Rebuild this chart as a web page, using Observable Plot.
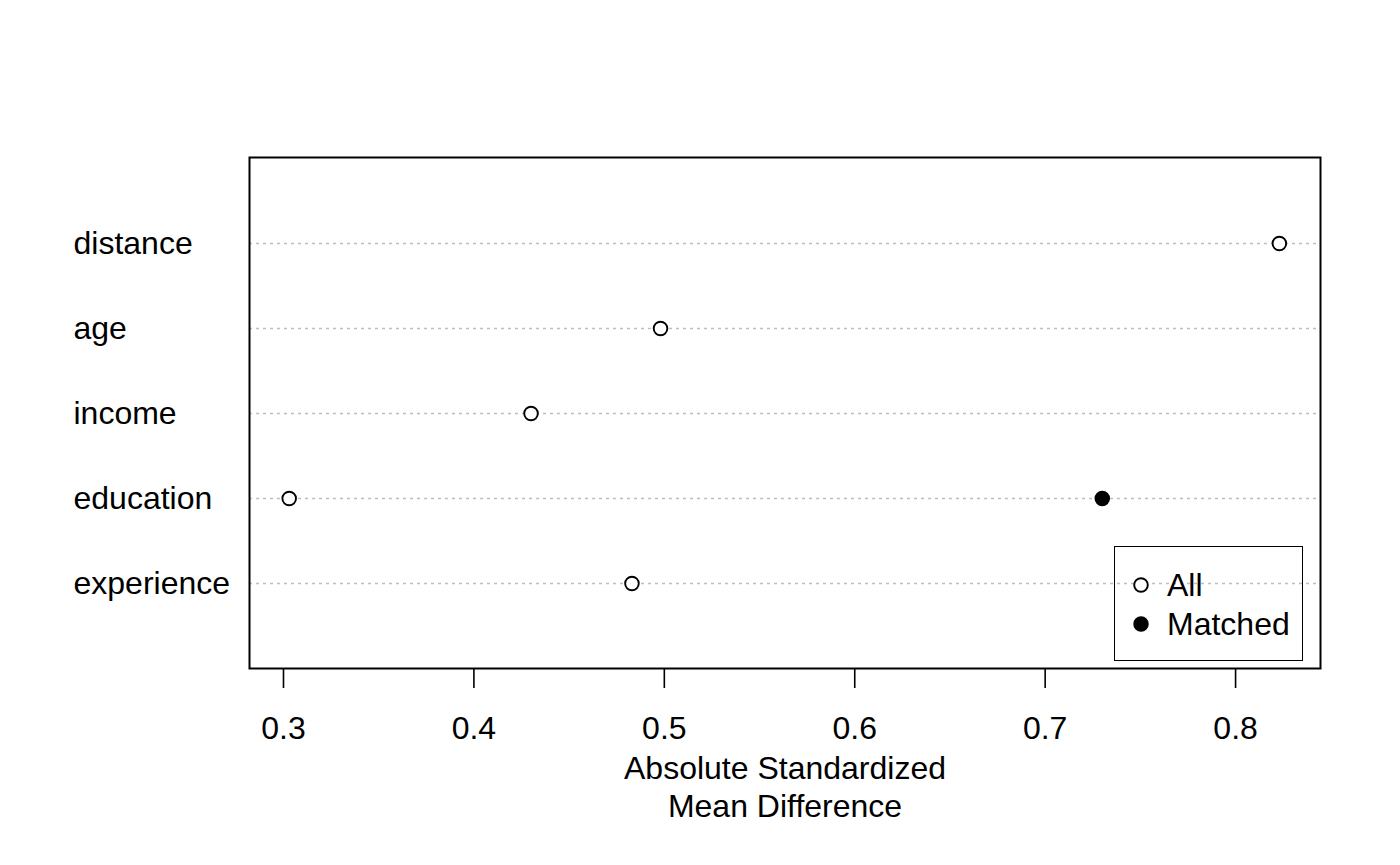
<!DOCTYPE html>
<html>
<head>
<meta charset="utf-8">
<script src="https://cdn.jsdelivr.net/npm/d3@7"></script>
<script src="https://cdn.jsdelivr.net/npm/@observablehq/plot@0.6"></script>
<style>
  html, body { margin: 0; padding: 0; background: #fff; }
  #wrap { position: relative; width: 1400px; height: 865px; font-family: "Liberation Sans", Arial, Helvetica, sans-serif; }
  #legend { position: absolute; left: 1114px; top: 546px; width: 187px; height: 113px; border: 1.6px solid #000; box-sizing: content-box; }
  #legend .row { position: absolute; left: 0; height: 40px; display: flex; align-items: center; font-size: 32px; color: #000; }
  #legend svg { margin-left: 17px; margin-right: 17px; }
</style>
</head>
<body>
<div id="wrap"></div>
<script>
// Data
const variables = ["distance", "age", "income", "education", "experience"];
const allValues = [0.823, 0.498, 0.430, 0.303, 0.483];
const matchedVariables = ["education"];
const matchedValues = [0.730];
const xTicks = [0.3, 0.4, 0.5, 0.6, 0.7, 0.8];
const xTitle = "Absolute Standardized\nMean Difference";
const legendLabels = ["All", "Matched"];

const allData = variables.map((v, i) => ({variable: v, value: allValues[i]}));
const matchedData = matchedVariables.map((v, i) => ({variable: v, value: matchedValues[i]}));

const chart = Plot.plot({
  width: 1400,
  height: 865,
  marginLeft: 249,
  marginRight: 80,
  marginTop: 157,
  marginBottom: 197,
  style: {fontFamily: '"Liberation Sans", Arial, Helvetica, sans-serif', fontSize: "32px", color: "#000", background: "#fff"},
  x: {domain: [0.28215, 0.8446]},
  y: {type: "point", domain: variables, padding: 1},
  marks: [
    Plot.ruleY(variables, {y: d => d, stroke: "#bebebe", strokeWidth: 1.3, strokeDasharray: "3,4"}),
    Plot.frame({stroke: "#000", strokeWidth: 2}),
    Plot.axisX(xTicks, {anchor: "bottom", tickSize: 20, tickPadding: 28, tickFormat: d => String(d), label: null, strokeWidth: 1.6}),
    Plot.axisY({anchor: "left", tickSize: 0, tickPadding: 0, textAnchor: "start", dx: -176, label: null}),
    Plot.text([xTitle], {frameAnchor: "bottom", text: d => d, lineAnchor: "top", dy: 84, lineHeight: 1.17, fontSize: 32}),
    Plot.dot(allData, {x: "value", y: "variable", r: 6.8, fill: "#fff", stroke: "#000", strokeWidth: 1.9}),
    Plot.dot(matchedData, {x: "value", y: "variable", r: 6.8, fill: "#000", stroke: "#000", strokeWidth: 1.9})
  ]
});

const wrap = document.getElementById("wrap");
wrap.appendChild(chart);

// Legend
const legend = document.createElement("div");
legend.id = "legend";
const rowTops = [18, 57];
legendLabels.forEach((lab, i) => {
  const row = document.createElement("div");
  row.className = "row";
  row.style.top = rowTops[i] + "px";
  const fill = i === 0 ? "#fff" : "#000";
  row.innerHTML = `<svg width="18" height="18" viewBox="0 0 18 18"><circle cx="9" cy="9" r="6.8" fill="${fill}" stroke="#000" stroke-width="1.9"/></svg><span>${lab}</span>`;
  legend.appendChild(row);
});
wrap.appendChild(legend);
</script>
</body>
</html>
